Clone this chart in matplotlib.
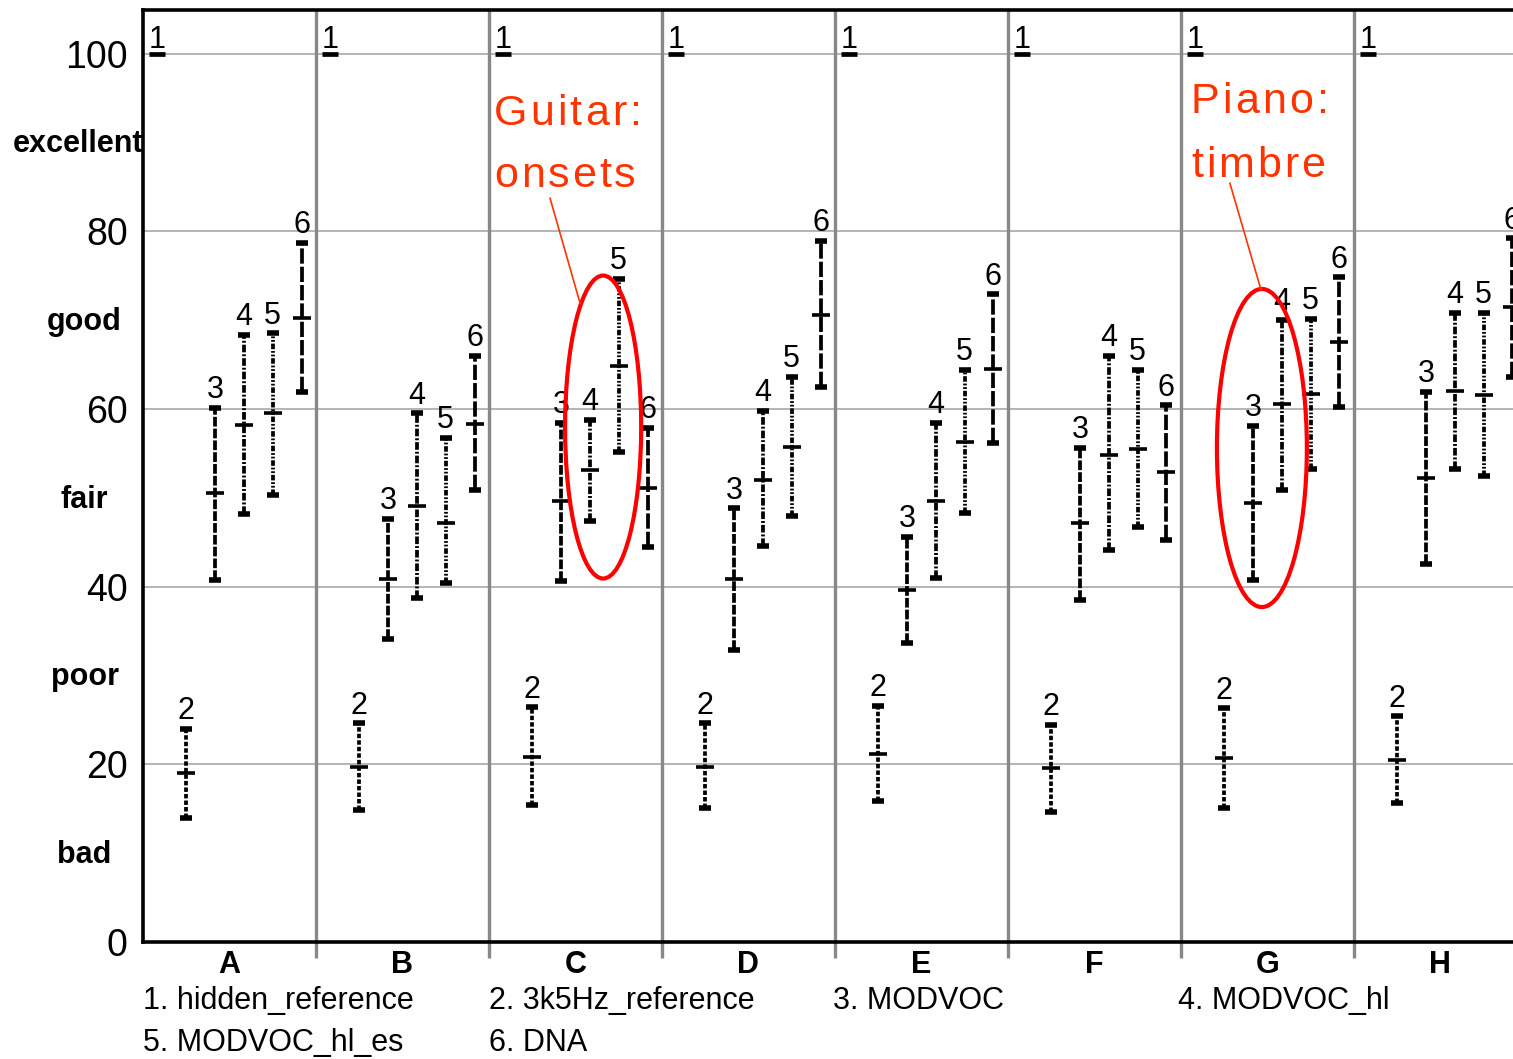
import matplotlib
matplotlib.use("Agg")
import matplotlib.pyplot as plt
from matplotlib.patches import Ellipse
from matplotlib.transforms import offset_copy

plt.rcParams['font.family'] = ['Liberation Sans', 'DejaVu Sans']
plt.rcParams['lines.scale_dashes'] = False

# ---------------- data ----------------
groups = ['A', 'B', 'C', 'D', 'E', 'F', 'G', 'H']
methods = ['1. hidden_reference', '2. 3k5Hz_reference', '3. MODVOC',
           '4. MODVOC_hl', '5. MODVOC_hl_es', '6. DNA']
quality_labels = ['excellent', 'good', 'fair', 'poor', 'bad']
quality_levels = [90, 70, 50, 30, 10]
yticks = [0, 20, 40, 60, 80, 100]

mean1 = [100, 100, 100, 100, 100, 100, 100, 100]

mean2 = [19.0, 19.7, 20.8, 19.7, 21.2, 19.6, 20.7, 20.5]
lo2 = [14.0, 14.9, 15.4, 15.1, 15.9, 14.6, 15.1, 15.6]
hi2 = [24.0, 24.6, 26.4, 24.6, 26.6, 24.4, 26.3, 25.4]

mean3 = [50.5, 40.9, 49.6, 40.9, 39.6, 47.2, 49.4, 52.2]
lo3 = [40.7, 34.1, 40.6, 32.9, 33.7, 38.5, 40.7, 42.5]
hi3 = [60.1, 47.6, 58.4, 48.8, 45.6, 55.6, 58.1, 61.9]

mean4 = [58.2, 49.1, 53.1, 52.0, 49.6, 54.8, 60.6, 62.0]
lo4 = [48.2, 38.7, 47.4, 44.6, 41.0, 44.1, 50.9, 53.2]
hi4 = [68.3, 59.5, 58.8, 59.8, 58.4, 66.0, 70.0, 70.8]

mean5 = [59.5, 47.2, 64.8, 55.7, 56.3, 55.5, 61.7, 61.6]
lo5 = [50.3, 40.4, 55.1, 47.9, 48.3, 46.7, 53.2, 52.4]
hi5 = [68.5, 56.7, 74.6, 63.6, 64.4, 64.4, 70.1, 70.8]

mean6 = [70.2, 58.3, 51.1, 70.6, 64.5, 52.9, 67.5, 71.5]
lo6 = [61.9, 50.9, 44.5, 62.5, 56.2, 45.2, 60.2, 63.6]
hi6 = [78.7, 66.0, 57.9, 78.9, 72.9, 60.4, 74.8, 79.2]

series = [
    (2, mean2, lo2, hi2, (0, (3.2, 1.5))),
    (3, mean3, lo3, hi3, (0, (7.0, 1.5))),
    (4, mean4, lo4, hi4, (0, (5.5, 1.4, 1.4, 1.4))),
    (5, mean5, lo5, hi5, (0, (4.0, 1.3, 1.3, 1.3, 1.3, 1.3))),
    (6, mean6, lo6, hi6, (0, (11.0, 2.2))),
]

# ---------------- figure ----------------
W, H = 1513, 1059
fig = plt.figure(figsize=(W / 100, H / 100), dpi=100)
ax = fig.add_axes([143 / W, 1 - 942 / H, 1 - 143 / W, (942 - 10) / H])

GW = 6  # items per group slot
ax.set_xlim(0, 47.52)
ax.set_ylim(0, 104.9)

# grid
for yv in yticks[1:]:
    ax.axhline(yv, color='#a0a0a0', lw=1.1, zorder=1)

# group separators (extend below axis)
for g in range(1, len(groups)):
    ax.vlines(g * GW, -1.8, 104.9, color='#888888', lw=2.4, zorder=2, clip_on=False)

# spines
for s in ['left', 'bottom', 'top']:
    ax.spines[s].set_linewidth(2.6)
    ax.spines[s].set_color('black')
    ax.spines[s].set_zorder(5)
ax.spines['right'].set_visible(False)

ax.set_xticks([])
ax.set_yticks(yticks)
ax.set_yticklabels([str(v) for v in yticks], fontsize=27)
ax.tick_params(axis='y', length=0, pad=11)

# quality labels
q_x = [-2.27, -2.05, -2.05, -2.0, -2.05]
for lab, lev, qx in zip(quality_labels, quality_levels, q_x):
    ax.text(qx, lev - 0.2, lab, ha='center', va='center', fontsize=22,
            fontweight='bold', clip_on=False)

# group letters
for g, name in enumerate(groups):
    ax.text(g * GW + GW / 2, -2.6, name, ha='center', va='center',
            fontsize=22, fontweight='bold', clip_on=False)

# item 1: hidden reference
for g, m in enumerate(mean1):
    x = g * GW + 0.5
    ax.plot([x], [m], marker='_', ms=12, mew=3.4, color='black', zorder=6)
    ax.annotate('1', (x, m), xytext=(0, -1), textcoords='offset points',
                ha='center', va='bottom', fontsize=22)

# items 2..6
for k, mean, lo, hi, ls in series:
    for g in range(len(groups)):
        x = g * GW + k - 0.5
        ax.vlines(x, lo[g], hi[g], color='black', lw=2.7, linestyles=[ls], zorder=6)
        ax.plot([x, x], [lo[g], hi[g]], ls='none', marker='_', ms=9, mew=4,
                color='black', zorder=7)
        ax.plot([x], [mean[g]], ls='none', marker='_', ms=13, mew=2.6,
                color='black', zorder=7)
        ax.annotate(str(k), (x, hi[g]), xytext=(0, 2), textcoords='offset points',
                    ha='center', va='bottom', fontsize=22, zorder=8)

# annotations
red = '#ff0000'
orange_red = '#ff3300'
ax.add_patch(Ellipse((15.96, 57.96), 2.64, 34.1, fill=False, ec=red, lw=3, zorder=9))
ax.add_patch(Ellipse((38.81, 55.6), 3.12, 35.8, fill=False, ec=red, lw=3, zorder=9))
ax.plot([14.12, 15.16], [83.7, 71.9], color=orange_red, lw=1.2, zorder=9)
ax.plot([37.70, 38.78], [85.4, 73.4], color=orange_red, lw=1.2, zorder=9)

renderer = fig.canvas.get_renderer()


def spaced_text(x, y, s, spacing_px, **kw):
    off = 0.0
    for ch in s:
        tr = offset_copy(ax.transData, fig=fig, x=off, y=0, units='dots')
        t = ax.text(x, y, ch, transform=tr, ha='left', va='baseline', **kw)
        w = t.get_window_extent(renderer=renderer).width
        if ch == ' ':
            w = 8
        off += w + spacing_px


anno_kw = dict(color=orange_red, fontsize=31, zorder=9)
spaced_text(12.17, 91.95, 'Guitar:', 3.0, **anno_kw)
spaced_text(12.17, 85.0, 'onsets', 3.0, **anno_kw)
spaced_text(36.35, 93.3, 'Piano:', 3.0, **anno_kw)
spaced_text(36.35, 86.1, 'timbre', 3.0, **anno_kw)

# method legend below
leg_pos = [(143, 1001), (489, 1001), (833, 1001), (1178, 1001), (143, 1043), (489, 1043)]
for txt, (px, py) in zip(methods, leg_pos):
    fig.text(px / W, 1 - py / H, txt, ha='left', va='center', fontsize=22)

fig.savefig('out.png', dpi=100)
